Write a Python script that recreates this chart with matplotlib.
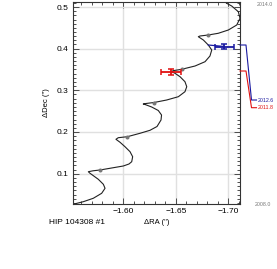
import matplotlib
matplotlib.use("Agg")
import matplotlib.pyplot as plt
from matplotlib.ticker import MultipleLocator

plt.rcParams['font.family'] = ['Liberation Sans', 'DejaVu Sans']

# model orbit (parallax + proper motion)
ra_model = [-1.5521, -1.5619, -1.5714, -1.5794, -1.5826, -1.5810, -1.5762, -1.5683,
            -1.5667, -1.5712, -1.5778, -1.5905, -1.6000, -1.6054, -1.6080, -1.6089,
            -1.6064, -1.6016, -1.5969, -1.5930, -1.5952, -1.6038, -1.6159, -1.6254,
            -1.6321, -1.6359, -1.6364, -1.6333, -1.6270, -1.6207, -1.6190, -1.6216,
            -1.6292, -1.6413, -1.6524, -1.6587, -1.6604, -1.6587, -1.6540, -1.6492,
            -1.6461, -1.6473, -1.6556, -1.6683, -1.6778, -1.6825, -1.6842, -1.6809,
            -1.6762, -1.6714, -1.6730, -1.6809, -1.6904, -1.7000, -1.7080, -1.7111,
            -1.7095, -1.7032, -1.6984, -1.6978, -1.7016, -1.7111]
dec_model = [0.0265, 0.0327, 0.0409, 0.0529, 0.0649, 0.0745, 0.0865, 0.1009,
             0.1047, 0.1069, 0.1088, 0.1143, 0.1184, 0.1232, 0.1287, 0.1407,
             0.1527, 0.1647, 0.1753, 0.1825, 0.1863, 0.1887, 0.1969, 0.2041,
             0.2132, 0.2288, 0.2408, 0.2516, 0.2600, 0.2660, 0.2672, 0.2684,
             0.2708, 0.2768, 0.2847, 0.2967, 0.3087, 0.3207, 0.3327, 0.3409,
             0.3447, 0.3471, 0.3505, 0.3584, 0.3687, 0.3824, 0.3968, 0.4088,
             0.4208, 0.4287, 0.4304, 0.4328, 0.4369, 0.4448, 0.4568, 0.4729,
             0.4887, 0.5024, 0.5089, 0.5103, 0.5127, 0.5156]

# yearly markers on the model track (2009 .. 2013)
ra_years = [-1.5778, -1.6038, -1.6292, -1.6556, -1.6809]
dec_years = [0.1088, 0.1887, 0.2708, 0.3505, 0.4328]

# measurements
epochs = ['2011.8', '2012.6']
ra_obs = [-1.6454, -1.6962]
dec_obs = [0.3447, 0.4052]
ra_err = [0.0095, 0.0093]
dec_err = [0.007, 0.007]
ra_pred = [-1.6461, -1.6809]
dec_pred = [0.3447, 0.4088]
colors = ['#e01010', '#1a1aa0']

W, H = 277, 269
fig = plt.figure(figsize=(W / 100, H / 100), dpi=100)
fig.patch.set_facecolor('white')
ax = fig.add_axes([73 / W, 1 - 204 / H, 167 / W, 202 / H])

ax.grid(True, color='#e0e0e0', linewidth=1.0, zorder=0)
ax.plot(ra_model, dec_model, color='#222222', linewidth=0.8, zorder=2)
ax.plot(ra_years, dec_years, 'o', color='#777777', markersize=1.9, zorder=3)

for i in range(len(epochs)):
    ax.plot([ra_pred[i], ra_obs[i]], [dec_pred[i], dec_obs[i]], color=colors[i],
            linewidth=0.9, zorder=3)
    ax.errorbar(ra_obs[i], dec_obs[i], xerr=ra_err[i], yerr=dec_err[i], fmt='none',
                ecolor=colors[i], elinewidth=1.3, capsize=2.2, capthick=1.1, zorder=4)

ax.set_xlim(-1.5521, -1.7111)
ax.set_ylim(0.0272, 0.512)
ax.xaxis.set_major_locator(MultipleLocator(0.05))
ax.xaxis.set_minor_locator(MultipleLocator(0.01))
ax.yaxis.set_major_locator(MultipleLocator(0.1))
ax.yaxis.set_minor_locator(MultipleLocator(0.01))
ax.set_xticks([-1.60, -1.65, -1.70])
ax.set_xticklabels(['\u22121.60', '\u22121.65', '\u22121.70'])
ax.set_yticks([0.1, 0.2, 0.3, 0.4, 0.5])
ax.set_yticklabels(['0.1', '0.2', '0.3', '0.4', '0.5'])
ax.tick_params(which='both', direction='in', top=True, right=True, labelsize=6,
               color='#333333', width=0.6, pad=3)
ax.tick_params(which='major', length=4)
ax.tick_params(which='minor', length=2)
for s in ax.spines.values():
    s.set_linewidth(0.8)
    s.set_color('#333333')

ax.set_xlabel("\u0394RA ('')", fontsize=5.5, labelpad=2.5)
ax.set_ylabel("\u0394Dec ('')", fontsize=5.5, labelpad=5)
fig.text(49 / W, 1 - 222.5 / H, 'HIP 104308 #1', fontsize=6, va='center', ha='left')

# epoch labels connected to the right of the frame
label_y = [107.7, 100.0]
edge_y = [71.0, 45.0]
for i in range(len(epochs)):
    xs = [240 / W, 246 / W, 251.5 / W, 256.5 / W]
    ys = [1 - edge_y[i] / H, 1 - edge_y[i] / H, 1 - label_y[i] / H, 1 - label_y[i] / H]
    fig.add_artist(plt.Line2D(xs, ys, color=colors[i], linewidth=0.8))
    fig.text(257.5 / W, 1 - label_y[i] / H, epochs[i], fontsize=3.8, color=colors[i],
             va='center', ha='left')

fig.text(256.5 / W, 1 - 4 / H, '2014.0', fontsize=3.8, color='#777777', va='center', ha='left')
fig.text(254.5 / W, 1 - 204 / H, '2008.0', fontsize=3.8, color='#777777', va='center', ha='left')

fig.savefig('out.png', dpi=100)
